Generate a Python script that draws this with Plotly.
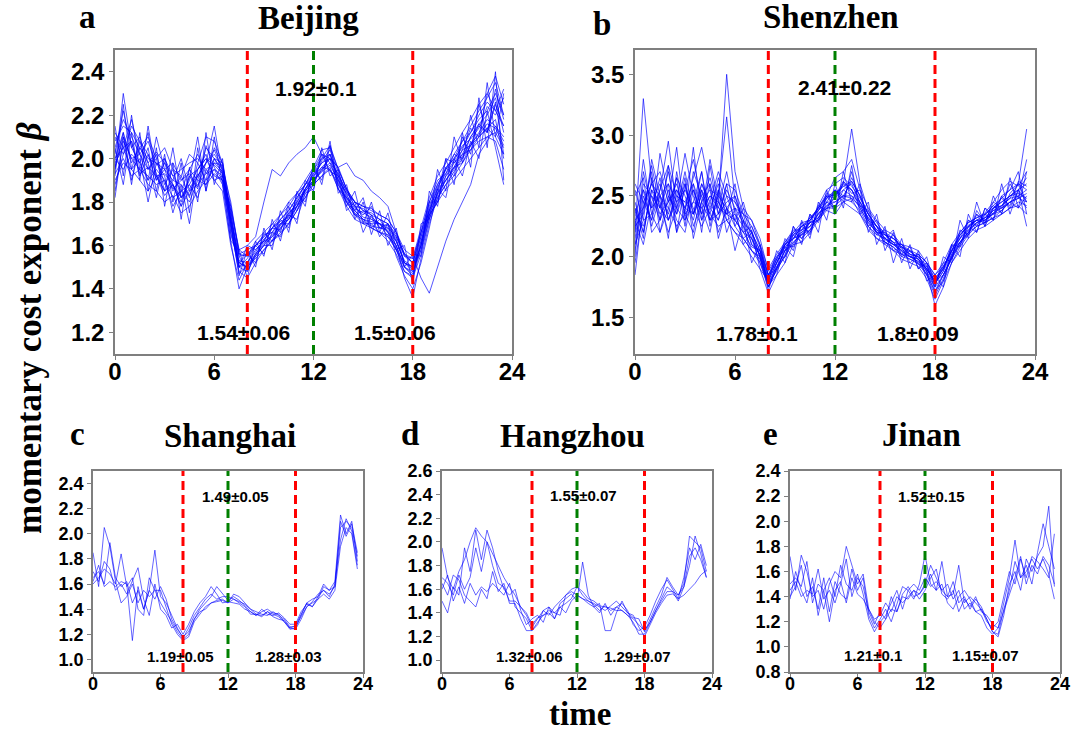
import plotly.graph_objects as go

# ---------------- data ----------------
hours = [i * 0.5 for i in range(48)]  # 0 .. 23.5 h
x_ticks = [0, 6, 12, 18, 24]
peak_lines = [8, 18]      # red dashed
noon_line = [12]          # green dashed

beijing = [
    [2.05,2.18,2.10,2.02,2.08,1.97,2.00,1.92,1.85,1.95,1.90,2.05,2.00,1.93,1.72,1.52,1.50,1.56,1.62,1.64,1.70,1.72,1.80,1.86,1.93,1.98,2.02,1.92,1.85,1.80,1.76,1.75,1.72,1.70,1.64,1.55,1.52,1.64,1.78,1.88,1.95,2.00,2.05,2.12,2.18,2.22,2.30,2.20],
    [1.95,2.30,2.05,1.98,2.12,1.90,1.95,1.85,1.92,1.82,1.98,1.90,2.05,1.98,1.70,1.50,1.48,1.55,1.60,1.68,1.67,1.75,1.78,1.85,1.90,1.95,2.00,1.88,1.80,1.76,1.72,1.70,1.70,1.66,1.58,1.50,1.48,1.58,1.72,1.84,1.90,1.96,2.04,2.06,2.12,2.18,2.15,2.08],
    [2.10,2.02,2.15,2.08,1.95,2.02,1.88,1.95,1.82,1.88,1.95,2.00,1.92,1.90,1.78,1.58,1.55,1.60,1.65,1.66,1.72,1.76,1.82,1.88,1.95,2.02,1.98,1.93,1.85,1.78,1.77,1.74,1.68,1.70,1.65,1.56,1.52,1.66,1.80,1.90,1.93,2.02,2.00,2.10,2.15,2.12,2.25,2.15],
    [1.90,1.98,1.95,1.90,1.85,1.92,1.83,1.88,1.78,1.85,1.88,1.93,1.95,1.92,1.68,1.48,1.45,1.52,1.58,1.62,1.66,1.70,1.76,1.84,1.88,1.92,1.95,1.86,1.80,1.74,1.70,1.70,1.66,1.64,1.58,1.48,1.45,1.56,1.72,1.82,1.88,1.92,1.98,2.04,2.08,2.10,2.12,2.05],
    [2.00,2.12,1.98,2.05,2.00,1.98,1.95,1.98,1.90,1.93,1.87,1.98,2.02,1.96,1.80,1.56,1.55,1.62,1.66,1.70,1.74,1.78,1.84,1.90,1.96,2.04,2.05,1.95,1.86,1.80,1.78,1.76,1.74,1.72,1.66,1.56,1.52,1.66,1.80,1.88,1.95,2.02,2.08,2.12,2.20,2.26,2.22,2.15],
    [1.85,2.08,2.00,1.95,1.92,1.88,1.90,1.82,1.85,1.80,1.90,1.88,1.93,1.90,1.62,1.40,1.50,1.55,1.60,1.64,1.68,1.72,1.78,1.85,1.90,1.96,1.95,1.88,1.82,1.76,1.72,1.71,1.70,1.66,1.60,1.45,1.36,1.54,1.70,1.82,1.88,1.94,2.00,2.06,2.10,2.14,2.18,2.00],
    [2.02,2.22,2.05,2.10,1.98,2.03,1.98,1.92,1.95,1.98,2.00,1.95,1.98,1.97,1.74,1.55,1.56,1.60,1.64,1.68,1.72,1.76,1.82,1.88,1.93,2.00,2.02,1.90,1.84,1.80,1.76,1.74,1.72,1.70,1.62,1.53,1.50,1.62,1.76,1.86,1.96,2.00,2.08,2.15,2.22,2.28,2.35,2.20],
    [1.98,2.05,2.08,1.92,2.02,1.93,1.85,1.88,1.80,1.92,1.95,2.00,1.97,1.93,1.76,1.58,1.60,1.64,1.80,1.95,1.92,1.98,2.02,2.05,2.10,2.02,2.00,1.96,1.98,1.92,1.90,1.85,1.82,1.78,1.66,1.58,1.55,1.45,1.38,1.50,1.62,1.72,1.80,1.88,2.02,2.08,2.15,2.10],
    [1.93,2.00,1.92,1.95,1.88,1.85,1.80,1.83,1.75,1.78,1.85,1.90,1.95,1.88,1.70,1.50,1.52,1.58,1.62,1.62,1.68,1.72,1.78,1.86,1.90,1.94,1.97,1.90,1.80,1.74,1.72,1.68,1.66,1.65,1.58,1.52,1.50,1.64,1.76,1.86,1.90,1.96,2.02,2.04,2.10,2.14,2.10,2.02],
    [2.08,2.15,2.12,2.05,2.10,2.00,2.05,1.95,1.92,2.02,1.98,2.10,2.08,1.98,1.78,1.56,1.58,1.60,1.64,1.68,1.74,1.80,1.84,1.88,1.95,2.00,2.06,1.95,1.86,1.80,1.78,1.77,1.74,1.72,1.66,1.55,1.54,1.68,1.82,1.92,1.98,2.05,2.12,2.18,2.25,2.30,2.38,2.25],
    [2.00,1.95,2.02,1.98,1.90,1.95,1.90,1.78,1.85,1.88,1.82,1.95,1.90,1.92,1.65,1.52,1.50,1.54,1.58,1.62,1.65,1.70,1.76,1.82,1.88,1.92,1.96,1.86,1.78,1.72,1.70,1.68,1.66,1.62,1.56,1.48,1.46,1.58,1.74,1.80,1.86,1.90,1.95,2.00,2.05,2.10,2.08,1.95],
    [1.96,2.10,2.00,2.02,1.95,2.00,1.85,1.90,1.88,1.83,1.92,1.98,2.04,1.95,1.72,1.53,1.52,1.57,1.63,1.66,1.70,1.74,1.80,1.86,1.92,1.98,2.00,1.92,1.82,1.78,1.73,1.72,1.70,1.68,1.62,1.52,1.49,1.60,1.74,1.84,1.92,1.98,2.02,2.10,2.16,2.20,2.28,2.12],
    [2.12,2.05,1.95,2.08,2.02,1.90,1.98,1.86,1.90,1.95,2.02,1.93,2.00,1.98,1.74,1.50,1.54,1.60,1.62,1.68,1.71,1.73,1.81,1.88,1.91,1.99,2.04,1.93,1.83,1.77,1.75,1.73,1.70,1.69,1.63,1.52,1.48,1.60,1.77,1.87,1.93,1.99,2.06,2.09,2.14,2.24,2.20,2.28],
    [1.88,2.02,2.08,1.93,1.96,1.92,1.93,1.88,1.82,1.86,1.93,1.88,1.98,1.94,1.70,1.47,1.51,1.56,1.61,1.65,1.69,1.75,1.79,1.85,1.89,1.95,1.98,1.89,1.81,1.75,1.71,1.69,1.68,1.67,1.60,1.50,1.47,1.60,1.75,1.83,1.90,1.95,2.01,2.07,2.11,2.16,2.14,2.06],
    [2.15,1.92,2.20,1.95,2.05,1.85,2.02,1.80,1.98,1.75,2.05,1.85,2.10,1.88,1.62,1.58,1.45,1.62,1.55,1.72,1.62,1.78,1.70,1.90,1.85,2.05,1.92,1.95,1.78,1.85,1.70,1.80,1.66,1.75,1.58,1.60,1.42,1.70,1.72,1.95,1.85,2.10,1.98,2.20,2.05,2.35,2.10,2.30],
    [1.82,2.10,1.88,2.12,1.85,2.05,1.78,1.98,1.72,1.96,1.80,2.12,1.88,2.00,1.70,1.46,1.58,1.50,1.68,1.58,1.76,1.66,1.85,1.78,1.98,1.88,2.06,1.84,1.88,1.72,1.80,1.65,1.76,1.60,1.68,1.50,1.56,1.55,1.85,1.78,2.00,1.88,2.12,1.96,2.28,2.05,2.40,1.90],
    [2.05,1.88,2.12,1.90,2.15,1.92,1.85,2.05,1.82,1.90,2.10,1.85,2.00,1.95,1.66,1.52,1.56,1.52,1.66,1.62,1.72,1.68,1.84,1.80,1.95,1.90,2.08,1.86,1.82,1.76,1.82,1.68,1.72,1.66,1.62,1.52,1.50,1.60,1.80,1.80,1.96,1.92,2.10,2.02,2.25,2.12,2.32,2.18],
    [1.92,2.25,1.95,2.00,1.80,1.98,1.92,1.75,1.88,1.70,1.95,2.02,1.90,1.85,1.60,1.44,1.52,1.60,1.56,1.66,1.64,1.74,1.72,1.84,1.86,2.02,1.94,1.92,1.76,1.80,1.66,1.74,1.64,1.70,1.55,1.46,1.40,1.52,1.68,1.86,1.82,2.00,1.92,2.08,2.00,2.22,2.05,1.88],
    [2.00,2.05,2.18,2.02,1.90,2.10,1.95,1.90,2.00,1.85,1.92,1.98,2.15,1.92,1.76,1.50,1.60,1.58,1.62,1.70,1.66,1.80,1.76,1.86,1.92,1.96,2.00,1.96,1.86,1.78,1.74,1.78,1.68,1.68,1.64,1.56,1.54,1.66,1.76,1.84,2.00,1.98,2.04,2.14,2.10,2.30,2.22,2.32],
    [1.95,2.12,1.90,2.05,1.98,1.82,2.00,1.88,1.78,1.92,1.86,2.06,1.96,1.90,1.72,1.55,1.48,1.56,1.60,1.60,1.70,1.70,1.78,1.82,1.90,1.94,2.02,1.90,1.84,1.74,1.76,1.72,1.70,1.64,1.60,1.50,1.46,1.62,1.74,1.80,1.92,1.96,1.98,2.06,2.16,2.12,2.26,2.02],
]

shenzhen = [
    [2.20,3.30,2.60,2.40,2.70,2.35,2.55,2.80,2.45,2.30,2.50,2.40,2.25,2.15,2.05,1.95,1.75,1.90,2.05,2.20,2.15,2.30,2.40,2.50,2.48,2.60,2.55,2.40,2.28,2.20,2.12,2.08,2.00,1.98,1.95,1.86,1.75,1.85,2.00,2.18,2.25,2.30,2.28,2.40,2.45,2.50,2.55,2.45],
    [2.30,2.10,2.45,2.60,2.30,2.55,2.40,2.65,2.90,2.55,2.50,3.15,2.45,2.30,2.20,2.00,1.80,1.95,2.10,2.15,2.25,2.20,2.38,2.45,2.40,2.55,2.60,2.45,2.35,2.25,2.18,2.15,2.08,2.05,1.98,1.90,1.78,1.92,2.05,2.12,2.20,2.35,2.30,2.38,2.42,2.48,2.60,2.55],
    [2.05,2.50,2.30,2.85,2.50,2.40,2.70,2.35,2.50,2.60,2.35,2.55,2.40,2.35,2.10,2.05,1.85,2.00,2.05,2.18,2.22,2.28,2.32,2.48,2.55,2.50,2.62,2.50,2.35,2.20,2.20,2.10,2.10,2.00,2.02,1.95,1.82,1.90,2.08,2.15,2.30,2.25,2.35,2.30,2.50,2.40,2.55,2.65],
    [2.40,2.20,2.55,2.35,2.45,2.90,2.30,2.45,2.40,2.20,2.55,2.35,2.60,2.20,2.25,2.10,1.75,1.90,2.00,2.12,2.18,2.25,2.30,2.40,2.42,2.48,2.45,2.38,2.25,2.18,2.15,2.12,2.02,2.00,1.96,1.88,1.70,1.85,1.98,2.10,2.20,2.28,2.32,2.35,2.38,2.45,2.40,2.50],
    [1.85,2.45,2.60,2.50,2.35,2.65,2.50,2.30,2.60,2.45,2.30,2.50,2.45,2.35,2.30,2.10,1.90,2.02,2.12,2.20,2.28,2.30,2.40,2.50,2.65,2.70,2.80,2.55,2.40,2.30,2.22,2.18,2.10,2.08,2.05,1.95,1.85,1.92,2.05,2.20,2.28,2.32,2.35,2.42,2.48,2.55,2.60,3.05],
    [2.50,2.65,2.20,2.30,2.55,2.30,2.20,2.55,2.35,2.80,2.45,2.30,2.20,2.10,2.00,1.90,1.70,1.85,1.95,2.10,2.12,2.20,2.30,2.38,2.35,2.45,2.48,2.35,2.25,2.15,2.10,2.05,1.98,1.95,1.92,1.82,1.65,1.80,1.95,2.05,2.15,2.22,2.25,2.30,2.35,2.40,2.42,2.35],
    [2.25,2.35,2.75,2.40,2.60,2.45,2.85,2.50,2.30,2.45,2.70,2.50,2.30,2.45,2.20,2.05,1.85,1.95,2.10,2.18,2.25,2.30,2.38,2.50,2.50,2.60,3.05,2.60,2.38,2.28,2.18,2.15,2.08,2.02,2.00,1.92,1.80,1.90,2.05,2.18,2.26,2.30,2.32,2.40,2.45,2.50,2.52,2.48],
    [2.10,2.30,2.35,2.20,2.40,2.25,2.35,2.20,2.55,2.35,2.25,2.30,2.20,2.15,2.05,1.98,1.78,1.92,2.05,2.12,2.18,2.22,2.32,2.40,2.40,2.45,2.40,2.35,2.22,2.15,2.12,2.05,2.02,1.98,1.94,1.85,1.72,1.85,1.98,2.12,2.20,2.25,2.28,2.32,2.35,2.40,2.45,2.42],
    [2.60,2.45,2.30,2.55,2.75,2.50,2.45,2.60,2.40,2.50,2.45,3.50,2.70,2.40,2.30,2.15,1.88,2.00,2.10,2.20,2.25,2.28,2.42,2.55,2.60,2.65,2.58,2.48,2.35,2.25,2.20,2.15,2.10,2.05,2.02,1.95,1.85,1.95,2.10,2.20,2.28,2.32,2.36,2.45,2.55,2.62,2.58,2.70],
    [2.35,2.55,2.40,2.65,2.30,2.45,2.55,2.40,2.25,2.40,2.60,2.30,2.35,2.25,2.15,2.00,1.80,1.95,2.08,2.15,2.20,2.25,2.35,2.45,2.45,2.50,2.48,2.42,2.30,2.22,2.15,2.10,2.05,2.00,1.98,1.90,1.78,1.88,2.02,2.15,2.22,2.28,2.30,2.35,2.42,2.48,2.50,2.40],
    [2.15,2.60,2.50,2.30,2.45,2.60,2.35,2.45,2.70,2.30,2.35,2.45,2.50,2.30,2.10,2.02,1.82,1.98,2.10,2.15,2.25,2.32,2.38,2.48,2.52,2.58,2.62,2.50,2.35,2.25,2.15,2.10,2.08,2.04,2.00,1.90,1.80,1.85,2.00,2.12,2.22,2.28,2.32,2.38,2.40,2.45,2.50,2.55],
    [2.45,2.20,2.55,2.45,2.20,2.40,2.60,2.25,2.45,2.55,2.20,2.40,2.30,2.20,2.15,2.02,1.78,1.92,2.00,2.15,2.18,2.28,2.32,2.42,2.45,2.50,2.50,2.45,2.30,2.20,2.18,2.12,2.05,2.00,1.98,1.88,1.60,1.75,1.95,2.08,2.18,2.25,2.28,2.32,2.38,2.45,2.48,2.45],
    [2.00,2.70,2.40,2.50,2.60,2.20,2.40,2.35,2.60,2.40,2.30,2.60,2.55,2.35,2.25,2.08,1.85,1.98,2.12,2.22,2.22,2.32,2.40,2.52,2.50,2.62,2.55,2.45,2.32,2.22,2.18,2.12,2.10,2.02,2.00,1.93,1.82,1.92,2.05,2.18,2.25,2.30,2.35,2.40,2.42,2.50,2.55,2.60],
    [2.30,2.40,2.60,2.70,2.45,2.55,2.40,2.55,2.35,2.50,2.40,2.35,2.40,2.28,2.20,2.05,1.75,1.90,2.05,2.10,2.22,2.25,2.35,2.42,2.48,2.55,2.50,2.40,2.28,2.20,2.14,2.10,2.04,2.00,1.96,1.90,1.80,1.90,2.04,2.15,2.24,2.30,2.30,2.36,2.40,2.45,2.48,2.52],
    [2.40,2.15,2.65,2.30,2.75,2.20,2.60,2.35,2.70,2.25,2.55,2.20,2.40,2.10,2.20,1.90,1.80,2.05,1.95,2.25,2.10,2.35,2.20,2.55,2.35,2.70,2.45,2.60,2.20,2.35,2.05,2.20,1.95,2.10,1.90,2.00,1.75,2.00,1.95,2.30,2.15,2.45,2.25,2.50,2.35,2.65,2.40,2.70],
    [2.10,2.55,2.25,2.50,2.15,2.70,2.35,2.90,2.30,2.60,2.15,2.40,2.05,2.30,1.95,2.10,1.85,1.90,2.15,2.05,2.30,2.15,2.45,2.30,2.60,2.40,2.75,2.35,2.45,2.10,2.25,1.95,2.15,1.90,2.05,1.80,1.85,1.75,2.10,2.00,2.35,2.20,2.40,2.30,2.60,2.35,2.55,2.25],
    [2.55,2.30,2.80,2.50,2.40,2.65,2.25,2.70,2.50,2.35,2.65,2.40,2.50,2.25,2.05,2.00,1.72,1.95,2.08,2.00,2.28,2.18,2.42,2.38,2.55,2.48,2.65,2.50,2.30,2.25,2.15,2.22,2.00,2.05,1.98,1.85,1.68,1.82,2.00,2.10,2.25,2.20,2.40,2.35,2.50,2.55,2.70,2.35],
    [2.20,2.80,2.35,2.55,2.95,2.40,2.30,2.60,2.20,2.75,2.35,2.60,2.25,2.40,2.15,1.95,1.78,1.88,2.02,2.18,2.12,2.35,2.28,2.45,2.55,2.45,2.70,2.42,2.38,2.18,2.22,2.05,2.08,1.95,2.02,1.88,1.76,1.95,1.98,2.22,2.18,2.38,2.28,2.45,2.40,2.60,2.48,2.80],
    [2.35,2.25,2.50,2.40,2.30,2.50,2.45,2.35,2.55,2.30,2.45,2.35,2.30,2.20,2.08,2.05,1.82,1.98,2.00,2.25,2.15,2.22,2.36,2.40,2.50,2.58,2.55,2.42,2.32,2.25,2.10,2.18,2.06,2.02,1.94,1.92,1.78,1.88,2.10,2.08,2.30,2.26,2.34,2.42,2.36,2.52,2.60,2.45],
    [1.95,2.40,2.70,2.20,2.50,2.35,2.65,2.15,2.45,2.65,2.40,2.70,2.35,2.15,2.22,2.00,1.76,1.85,2.10,2.08,2.20,2.28,2.30,2.50,2.40,2.62,2.52,2.55,2.25,2.30,2.12,2.08,2.02,2.08,1.90,1.95,1.72,1.80,2.02,2.12,2.18,2.35,2.25,2.40,2.48,2.42,2.62,2.58],
]

shanghai = [
    [1.85,1.58,2.05,1.90,1.62,1.45,1.50,1.60,1.45,1.55,1.50,1.55,1.45,1.38,1.30,1.22,1.16,1.20,1.32,1.40,1.45,1.50,1.58,1.52,1.47,1.50,1.47,1.43,1.38,1.35,1.38,1.40,1.37,1.36,1.30,1.25,1.27,1.36,1.45,1.42,1.48,1.58,1.55,1.62,2.15,2.00,2.10,1.78],
    [1.65,1.70,1.60,1.93,1.65,1.58,1.62,1.45,1.55,1.40,1.55,1.87,1.50,1.45,1.35,1.25,1.17,1.25,1.35,1.42,1.48,1.52,1.48,1.50,1.50,1.48,1.46,1.44,1.40,1.38,1.36,1.35,1.38,1.35,1.32,1.26,1.26,1.34,1.42,1.46,1.52,1.55,1.52,1.58,2.05,2.10,2.05,1.82],
    [1.60,1.65,1.72,1.68,1.60,1.84,1.58,1.65,1.40,1.35,1.65,1.55,1.55,1.42,1.28,1.20,1.15,1.18,1.30,1.36,1.42,1.45,1.47,1.48,1.45,1.52,1.50,1.45,1.40,1.36,1.34,1.38,1.36,1.34,1.30,1.24,1.25,1.35,1.45,1.48,1.50,1.55,1.50,1.60,1.95,2.12,2.02,1.75],
    [1.70,1.62,1.78,1.72,1.55,1.60,1.52,1.62,1.73,1.48,1.35,1.60,1.40,1.35,1.25,1.28,1.20,1.28,1.38,1.45,1.50,1.58,1.52,1.45,1.46,1.45,1.44,1.40,1.38,1.35,1.40,1.36,1.35,1.37,1.33,1.28,1.28,1.38,1.44,1.42,1.50,1.60,1.55,1.58,2.10,1.98,2.08,1.85],
    [1.62,1.75,1.58,1.62,1.58,1.62,1.60,1.15,1.58,1.40,1.55,1.48,1.58,1.48,1.32,1.24,1.18,1.22,1.32,1.38,1.40,1.45,1.46,1.47,1.45,1.48,1.45,1.42,1.36,1.36,1.35,1.38,1.34,1.32,1.31,1.25,1.24,1.32,1.42,1.45,1.48,1.52,1.48,1.55,1.90,2.05,2.00,1.72],
]

hangzhou = [
    [1.95,1.70,1.60,1.75,1.85,2.00,2.12,2.05,2.00,1.90,1.80,1.70,1.62,1.55,1.45,1.38,1.28,1.35,1.42,1.38,1.45,1.50,1.55,1.60,1.62,1.55,1.50,1.48,1.45,1.42,1.46,1.50,1.45,1.40,1.36,1.35,1.24,1.35,1.45,1.55,1.70,1.62,1.55,1.65,2.05,2.00,1.95,1.75],
    [1.50,1.40,1.62,1.55,1.95,1.75,2.10,1.85,2.10,1.95,1.75,1.60,1.55,1.60,1.42,1.30,1.35,1.38,1.32,1.45,1.40,1.38,1.55,1.58,1.55,1.52,1.48,1.45,1.40,1.48,1.38,1.45,1.48,1.42,1.30,1.25,1.28,1.38,1.50,1.60,1.68,1.60,1.52,1.70,1.95,1.85,1.98,1.80],
    [1.70,1.65,1.55,1.72,1.60,1.70,1.95,1.75,2.00,1.80,1.65,1.62,1.50,1.50,1.45,1.40,1.30,1.36,1.38,1.42,1.40,1.45,1.48,1.52,1.62,1.58,1.52,1.50,1.46,1.45,1.44,1.42,1.42,1.38,1.35,1.30,1.25,1.32,1.42,1.52,1.62,1.58,1.55,1.62,1.88,1.95,1.85,1.70],
    [1.60,1.72,1.50,1.62,1.48,1.65,1.55,1.62,1.58,1.65,1.60,1.55,1.65,1.45,1.40,1.35,1.25,1.30,1.42,1.45,1.35,1.48,1.52,1.56,1.50,1.83,1.55,1.45,1.48,1.25,1.25,1.40,1.50,1.40,1.38,1.28,1.20,1.30,1.40,1.48,1.55,1.56,1.52,1.55,1.60,1.65,1.72,1.76],
    [1.65,1.55,1.72,1.68,1.55,1.50,1.45,1.60,1.52,1.75,1.58,1.65,1.48,1.48,1.35,1.25,1.25,1.32,1.38,1.40,1.35,1.45,1.40,1.50,1.55,1.52,1.50,1.47,1.42,1.46,1.42,1.45,1.42,1.38,1.32,1.22,1.22,1.32,1.42,1.50,1.58,1.58,1.50,1.62,1.80,2.05,1.90,1.70],
]

jinan = [
    [1.72,1.45,1.73,1.60,1.40,1.45,1.30,1.50,1.60,1.55,1.80,1.65,1.50,1.58,1.30,1.20,1.15,1.22,1.30,1.28,1.40,1.38,1.45,1.42,1.50,1.65,1.55,1.45,1.50,1.38,1.45,1.30,1.35,1.28,1.25,1.15,1.10,1.15,1.35,1.55,1.85,1.55,1.65,1.50,1.75,1.98,1.80,1.62],
    [1.40,1.48,1.65,1.40,1.48,1.30,1.55,1.28,1.52,1.42,1.38,1.62,1.45,1.55,1.25,1.15,1.22,1.30,1.20,1.35,1.48,1.45,1.38,1.50,1.73,1.50,1.45,1.68,1.40,1.52,1.35,1.40,1.30,1.38,1.32,1.22,1.12,1.08,1.25,1.50,1.60,1.45,1.70,1.60,1.72,1.80,2.12,1.48],
    [1.50,1.55,1.48,1.68,1.35,1.50,1.45,1.55,1.40,1.65,1.50,1.45,1.58,1.42,1.22,1.12,1.20,1.25,1.35,1.45,1.30,1.45,1.50,1.45,1.55,1.48,1.52,1.45,1.40,1.42,1.65,1.35,1.40,1.35,1.30,1.20,1.15,1.20,1.40,1.60,1.50,1.70,1.55,1.72,1.68,1.62,1.55,1.90],
    [1.45,1.52,1.40,1.45,1.42,1.62,1.38,1.45,1.35,1.50,1.70,1.40,1.55,1.48,1.28,1.18,1.28,1.22,1.40,1.28,1.42,1.48,1.40,1.42,1.48,1.58,1.45,1.50,1.35,1.30,1.40,1.45,1.38,1.28,1.30,1.22,1.12,1.10,1.30,1.45,1.68,1.55,1.60,1.70,1.62,1.70,1.58,1.38],
    [1.38,1.60,1.45,1.35,1.55,1.25,1.45,1.20,1.45,1.52,1.35,1.55,1.42,1.38,1.30,1.22,1.25,1.35,1.28,1.40,1.35,1.40,1.45,1.38,1.45,1.55,1.62,1.42,1.38,1.45,1.28,1.38,1.32,1.40,1.28,1.25,1.18,1.15,1.28,1.42,1.55,1.72,1.50,1.65,1.58,1.72,1.65,1.50],
]

cities = ["Beijing", "Shenzhen", "Shanghai", "Hangzhou", "Jinan"]
letters = ["a", "b", "c", "d", "e"]
series = [beijing, shenzhen, shanghai, hangzhou, jinan]
noon_text = ["1.92±0.1", "2.41±0.22", "1.49±0.05", "1.55±0.07", "1.52±0.15"]
morning_text = ["1.54±0.06", "1.78±0.1", "1.19±0.05", "1.32±0.06", "1.21±0.1"]
evening_text = ["1.5±0.06", "1.8±0.09", "1.28±0.03", "1.29±0.07", "1.15±0.07"]
y_ranges = [[1.1, 2.5], [1.2, 3.7], [0.9, 2.5], [0.9, 2.6], [0.8, 2.4]]
y_ticks = [
    [1.2, 1.4, 1.6, 1.8, 2.0, 2.2, 2.4],
    [1.5, 2.0, 2.5, 3.0, 3.5],
    [1.0, 1.2, 1.4, 1.6, 1.8, 2.0, 2.2, 2.4],
    [1.0, 1.2, 1.4, 1.6, 1.8, 2.0, 2.2, 2.4, 2.6],
    [0.8, 1.0, 1.2, 1.4, 1.6, 1.8, 2.0, 2.2, 2.4],
]

# ---------------- layout geometry (pixels) ----------------
W, H = 1074, 733
boxes = [  # x0, x1, ytop, ybottom
    (115, 512, 50, 354),
    (635, 1035, 50, 354),
    (93, 363, 471, 672),
    (442, 712, 471, 672),
    (790, 1060, 471, 672),
]
noon_pos = [(12.15, 2.325), (12.54, 3.39), (12.68, 2.30), (12.6, 2.39), (12.6, 2.20)]
morn_pos = [(7.77, 1.20), (7.3, 1.37), (7.8, 1.02), (7.8, 1.03), (7.4, 0.93)]
even_pos = [(16.93, 1.20), (16.98, 1.37), (17.4, 1.02), (17.4, 1.03), (17.4, 0.93)]
title_pos = [(308, 18), (831, 17), (230, 436), (572, 436), (921, 435)]
letter_pos = [(87, 17), (602, 24), (77, 434), (410, 434), (770, 434)]

fig = go.Figure()
layout = dict(width=W, height=H, margin=dict(l=0, r=0, t=0, b=0, pad=0),
              paper_bgcolor="white", plot_bgcolor="white", showlegend=False)
annotations = []
shapes = []

for k in range(5):
    x0, x1, yt, yb = boxes[k]
    sfx = "" if k == 0 else str(k + 1)
    big = k < 2
    tick_size = 24 if big else 18
    ann_size = 21 if big else 15
    col = "rgba(0,0,255,0.75)" if big else "rgba(0,0,255,0.6)"
    for s in series[k]:
        fig.add_trace(go.Scatter(x=hours, y=s, mode="lines",
                                 line=dict(color=col, width=0.9 if big else 1.0),
                                 xaxis="x" + sfx, yaxis="y" + sfx,
                                 hoverinfo="skip"))
    axis_common = dict(showgrid=False, zeroline=False, showline=True,
                       linecolor="#7f7f7f", linewidth=1.5, mirror=True,
                       ticks="outside", ticklen=4, tickcolor="#7f7f7f",
                       automargin=False,
                       tickfont=dict(family="Liberation Sans", size=tick_size,
                                     color="black", weight="bold"))
    layout["xaxis" + sfx] = dict(axis_common, domain=[x0 / W, x1 / W],
                                 anchor="y" + sfx, range=[0, 24],
                                 tickvals=x_ticks, ticklabelstandoff=-9)
    layout["yaxis" + sfx] = dict(axis_common, domain=[1 - yb / H, 1 - yt / H],
                                 anchor="x" + sfx, range=y_ranges[k],
                                 tickvals=y_ticks[k], tickformat=".1f")
    xr = "x" + sfx
    yd = ("y" + sfx) + " domain"
    for xv in peak_lines:
        shapes.append(dict(type="line", xref=xr, yref=yd, x0=xv, x1=xv, y0=0, y1=1,
                           line=dict(color="#ff0000", width=3, dash="9px,5px")))
    for xv in noon_line:
        shapes.append(dict(type="line", xref=xr, yref=yd, x0=xv, x1=xv, y0=0, y1=1,
                           line=dict(color="#008000", width=3, dash="9px,5px")))
    for txt, (ax, ay) in zip([noon_text[k], morning_text[k], evening_text[k]],
                             [noon_pos[k], morn_pos[k], even_pos[k]]):
        annotations.append(dict(text="<b>" + txt + "</b>", x=ax, y=ay,
                                xref=xr, yref="y" + sfx, showarrow=False,
                                font=dict(family="Liberation Sans", size=ann_size,
                                          color="black")))
    tx, ty = title_pos[k]
    annotations.append(dict(text="<b>" + cities[k] + "</b>", x=tx / W, y=1 - ty / H,
                            xref="paper", yref="paper", showarrow=False,
                            xanchor="center", yanchor="middle",
                            font=dict(family="Liberation Serif", size=33, color="black")))
    lx, ly = letter_pos[k]
    annotations.append(dict(text="<b>" + letters[k] + "</b>", x=lx / W, y=1 - ly / H,
                            xref="paper", yref="paper", showarrow=False,
                            xanchor="center", yanchor="middle",
                            font=dict(family="Liberation Serif", size=33, color="black")))

annotations.append(dict(text="<b>momentary cost exponent <i>β</i></b>",
                        x=29 / W, y=1 - 328 / H, xref="paper", yref="paper",
                        showarrow=False, textangle=-90,
                        xanchor="center", yanchor="middle",
                        font=dict(family="Liberation Serif", size=35, color="black")))
annotations.append(dict(text="<b>time</b>", x=580 / W, y=1 - 714 / H,
                        xref="paper", yref="paper", showarrow=False,
                        xanchor="center", yanchor="middle",
                        font=dict(family="Liberation Serif", size=33, color="black")))

layout["annotations"] = annotations
layout["shapes"] = shapes
fig.update_layout(**layout)
fig.write_html("out.html", config={"displayModeBar": False},
               post_script="document.body.style.margin='0';document.body.style.overflow='hidden';")
